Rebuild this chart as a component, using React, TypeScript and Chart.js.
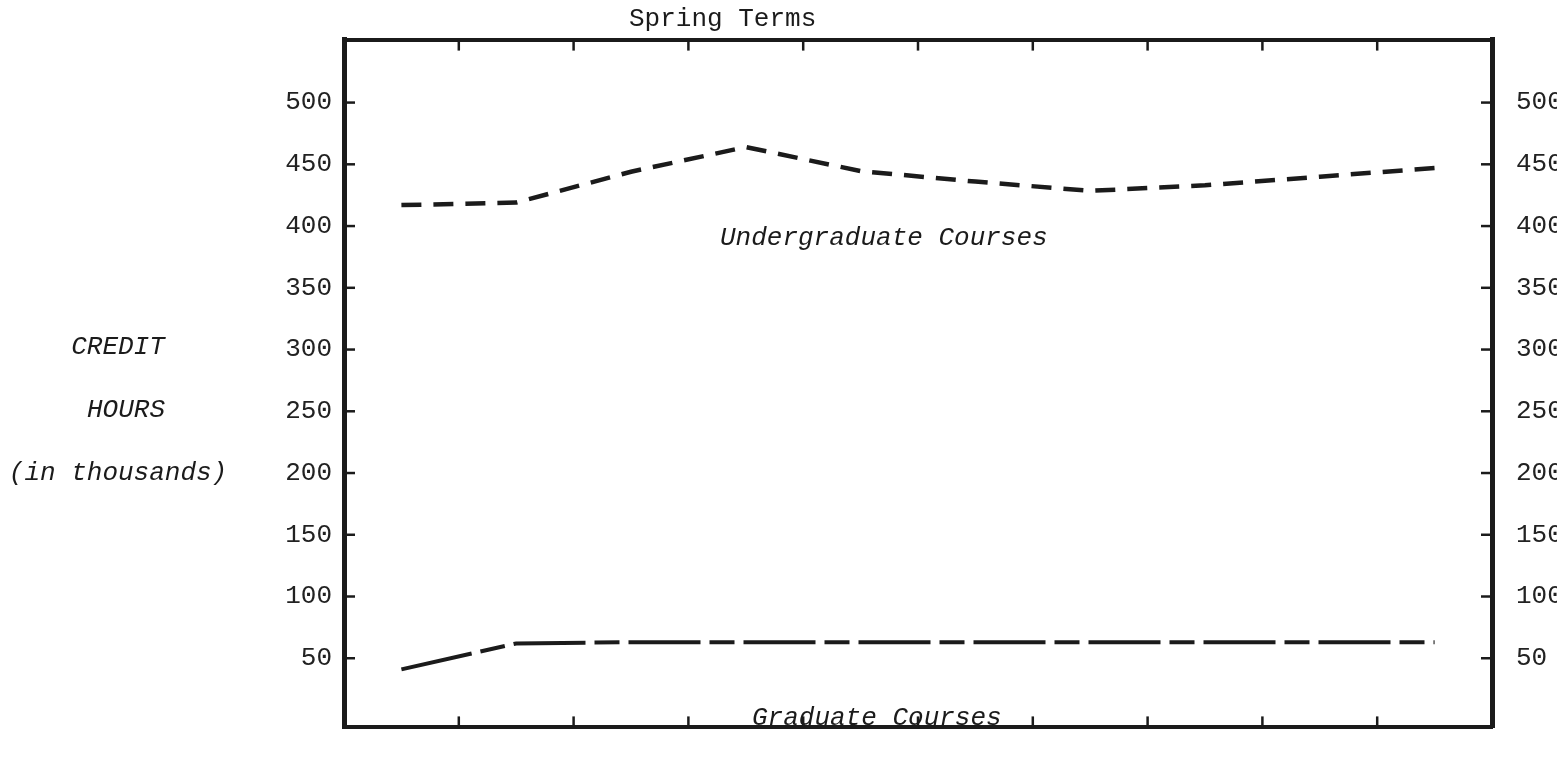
import React, { useEffect, useRef } from "react";
import { Chart, registerables } from "chart.js";

Chart.register(...registerables);

// ---- data ----
const terms = ["T1", "T2", "T3", "T4", "T5", "T6", "T7", "T8", "T9", "T10"];
const undergraduate = [417, 419, 444, 464, 444.5, 436, 428.5, 433, 440, 447];
const graduate = [41, 62, 63, 63, 63, 63, 63, 63, 63, 63];
const yTickValues = [50, 100, 150, 200, 250, 300, 350, 400, 450, 500];
const yRange = [-6, 551];
const chartTitle = "Spring Terms";
const axisTitleLines = ["CREDIT", "HOURS", "(in thousands)"];
const seriesLabels = ["Undergraduate Courses", "Graduate Courses"];

const INK = "#1b1b1b";
const MONO = "'Liberation Mono', 'DejaVu Sans Mono', monospace";

export default function App() {
  const ref = useRef<HTMLCanvasElement | null>(null);

  useEffect(() => {
    const canvas = ref.current;
    if (!canvas) return;

    const typed = {
      id: "typed",
      afterDraw(chart: any) {
        const { ctx, chartArea: a, scales } = chart;
        const xs = scales.x;
        const ys = scales.y;
        const tl = 11;
        ctx.save();
        ctx.strokeStyle = INK;
        ctx.lineWidth = 2.5;
        for (let i = 1; i < terms.length; i++) {
          const px = (xs.getPixelForValue(i - 1) + xs.getPixelForValue(i)) / 2;
          ctx.beginPath();
          ctx.moveTo(px, a.top);
          ctx.lineTo(px, a.top + tl);
          ctx.stroke();
          ctx.beginPath();
          ctx.moveTo(px, a.bottom);
          ctx.lineTo(px, a.bottom - tl);
          ctx.stroke();
        }
        for (const v of yTickValues) {
          const py = ys.getPixelForValue(v);
          ctx.beginPath();
          ctx.moveTo(a.left, py);
          ctx.lineTo(a.left + tl, py);
          ctx.stroke();
          ctx.beginPath();
          ctx.moveTo(a.right, py);
          ctx.lineTo(a.right - tl, py);
          ctx.stroke();
        }
        ctx.fillStyle = INK;
        ctx.textBaseline = "middle";
        ctx.textAlign = "left";
        ctx.font = `26px ${MONO}`;
        ctx.fillText(chartTitle, 629, 19);
        ctx.font = `italic 26px ${MONO}`;
        ctx.textAlign = "center";
        const titleX = [118, 126, 118];
        axisTitleLines.forEach((t, i) => ctx.fillText(t, titleX[i], 347 + i * 63));
        ctx.textAlign = "left";
        ctx.fillText(seriesLabels[0], 720, 238);
        ctx.fillText(seriesLabels[1], 752, 718);
        ctx.restore();
      },
    };

    const tickFont = { family: MONO, size: 26 };
    const setTicks = (axis: any) => {
      axis.ticks = yTickValues.map((v) => ({ value: v }));
    };

    const chart = new Chart(canvas, {
      type: "line",
      data: {
        labels: terms,
        datasets: [
          {
            label: seriesLabels[0],
            data: undergraduate,
            borderColor: INK,
            borderWidth: 4.5,
            borderDash: [20, 12],
            pointRadius: 0,
            tension: 0,
            fill: false,
          },
          {
            label: seriesLabels[1],
            data: graduate,
            borderColor: INK,
            borderWidth: 4,
            borderDash: [72, 9, 25, 9],
            pointRadius: 0,
            tension: 0,
            fill: false,
          },
        ],
      },
      options: {
        animation: false,
        responsive: false,
        maintainAspectRatio: false,
        layout: { padding: 0 },
        plugins: { legend: { display: false }, title: { display: false }, tooltip: { enabled: false } },
        scales: {
          x: {
            type: "category",
            position: "bottom",
            offset: true,
            grid: { display: false },
            border: { display: true, color: INK, width: 4 },
            ticks: { display: false },
            afterFit: (s: any) => {
              s.height = 3;
            },
          },
          x2: {
            type: "category",
            labels: terms,
            position: "top",
            offset: true,
            grid: { display: false },
            border: { display: true, color: INK, width: 4 },
            ticks: { display: false },
            afterFit: (s: any) => {
              s.height = 38;
            },
          },
          y: {
            type: "linear",
            position: "left",
            min: yRange[0],
            max: yRange[1],
            afterBuildTicks: setTicks,
            grid: { display: false, drawTicks: false },
            border: { display: true, color: INK, width: 5 },
            ticks: { font: tickFont, color: "#222", padding: 12 },
            afterFit: (s: any) => {
              s.width = 344;
            },
          },
          y2: {
            type: "linear",
            position: "right",
            min: yRange[0],
            max: yRange[1],
            afterBuildTicks: setTicks,
            grid: { display: false, drawTicks: false },
            border: { display: true, color: INK, width: 5 },
            ticks: { font: tickFont, color: "#222", padding: 24 },
            afterFit: (s: any) => {
              s.width = 65;
            },
          },
        },
      },
      plugins: [typed],
    });

    return () => chart.destroy();
  }, []);

  return (
    <div style={{ position: "fixed", left: 0, top: 0, width: 1557, height: 767, background: "#fff" }}>
      <canvas ref={ref} width={1557} height={767} style={{ width: 1557, height: 767, display: "block" }} />
    </div>
  );
}
